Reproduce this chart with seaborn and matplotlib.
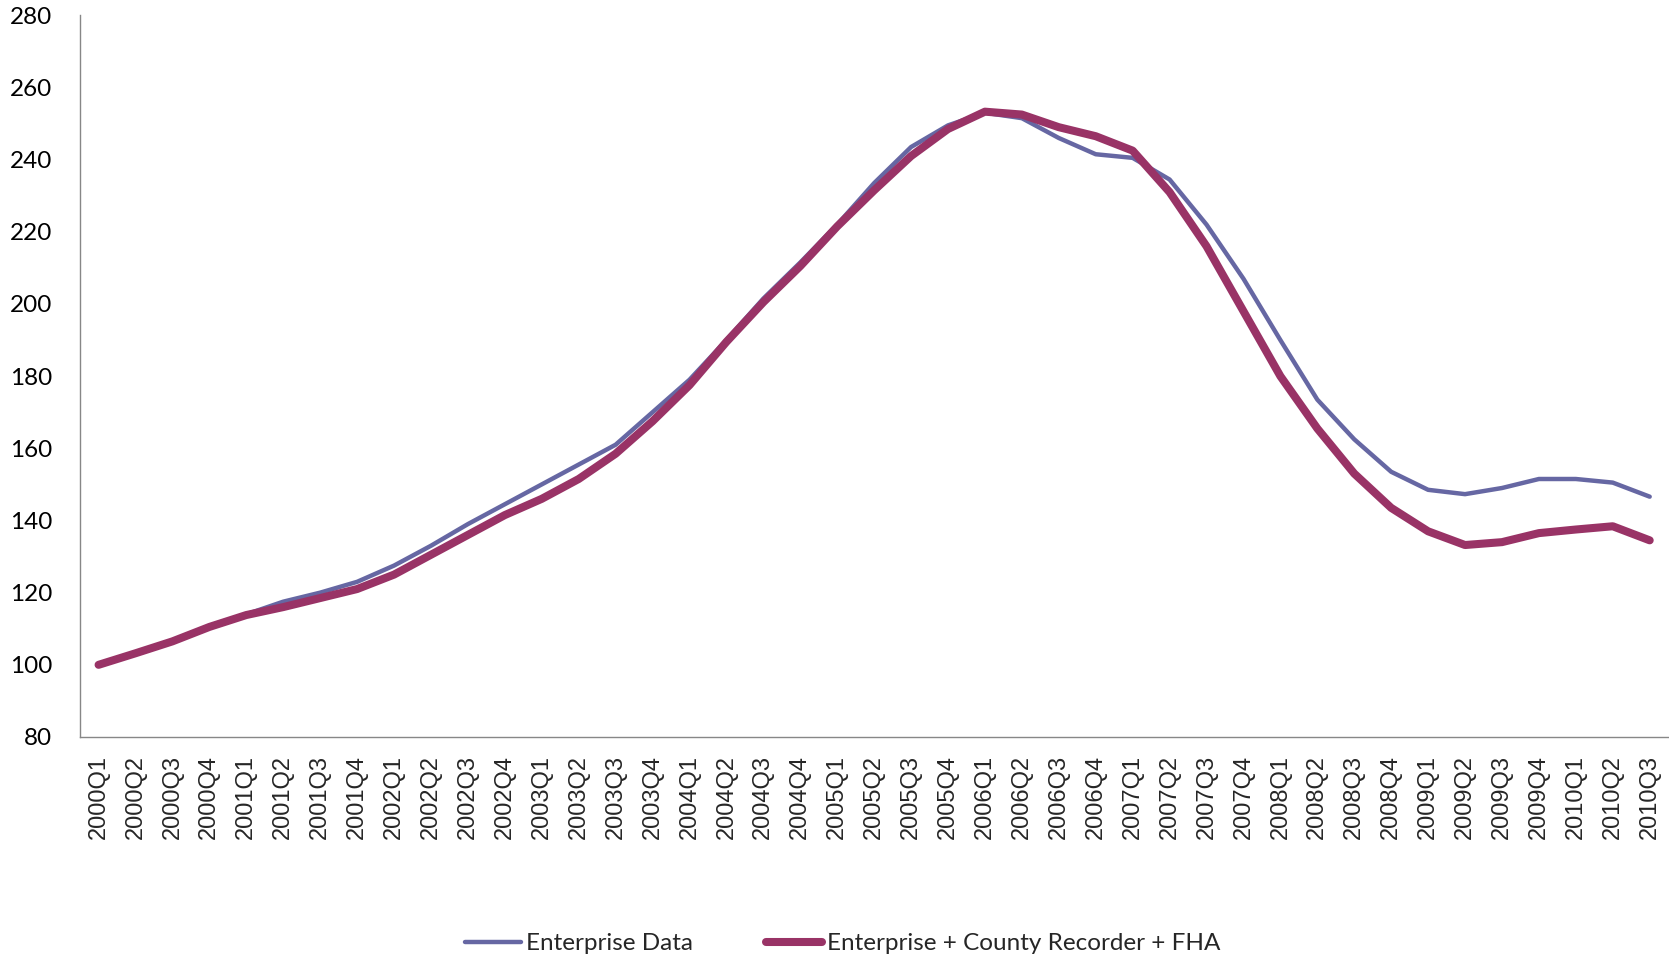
import numpy as np
import pandas as pd
import matplotlib.pyplot as plt
import seaborn as sns

# quarterly index values, 2000Q1 = 100
quarters = [f"{y}Q{q}" for y in range(2000, 2011) for q in range(1, 5)][:43]

enterprise = [100, 103.2, 106.5, 110.8, 114, 117.5, 120, 123, 127.5, 133,
              139, 144.5, 150, 155.5, 161, 170, 179, 190, 201.5, 211.5,
              222, 233.5, 243.5, 249.5, 253, 251.5, 246, 241.5, 240.5, 234.5,
              222, 207, 190, 173.5, 162.5, 153.5, 148.5, 147.3, 149, 151.5,
              151.5, 150.5, 146.6]

combined = [100, 103.2, 106.5, 110.5, 113.8, 116, 118.5, 121, 125, 130.5,
            136, 141.5, 146, 151.5, 158.5, 167.5, 177.5, 189.5, 200.5, 210.5,
            221.5, 231.5, 241, 248.5, 253.3, 252.5, 249, 246.5, 242.5, 231,
            216, 198, 180, 165.5, 153, 143.5, 137, 133.2, 134, 136.5,
            137.5, 138.4, 134.5]

df = pd.DataFrame({'idx': np.arange(len(quarters)),
                   'Enterprise Data': enterprise,
                   'Enterprise + County Recorder + FHA': combined})

sns.set_style('white')
plt.rcParams['font.family'] = ['Lato', 'DejaVu Sans']

fig = plt.figure(figsize=(16.69, 9.58), dpi=100)
ax = fig.add_axes([0.048, 0.2307, 0.9515, 0.7533])

sns.lineplot(data=df, x='idx', y='Enterprise Data', color='#6667A3',
             linewidth=3.2, label='Enterprise Data', ax=ax,
             solid_capstyle='round')
sns.lineplot(data=df, x='idx', y='Enterprise + County Recorder + FHA',
             color='#993366', linewidth=5.8,
             label='Enterprise + County Recorder + FHA', ax=ax,
             solid_capstyle='round')

ax.set_xlim(-0.5, len(quarters) - 0.5)
ax.set_ylim(80, 280)
ax.set_yticks(range(80, 281, 20))
ax.set_xticks(np.arange(len(quarters)))
ax.set_xticklabels(quarters, rotation=90, fontsize=17,
                   family=['Liberation Sans', 'DejaVu Sans'])
ax.set_xticks(np.arange(len(quarters) + 1) - 0.5, minor=True)
ax.tick_params(axis='x', which='major', length=0, pad=13)
ax.tick_params(axis='x', which='minor', length=6, width=1, color='#878787',
               direction='out')
ax.tick_params(axis='y', length=6, width=1, color='#878787', direction='out',
               labelsize=17.5, pad=14, labelcolor='black')
ax.set_xlabel('')
ax.set_ylabel('')

for s in ['top', 'right']:
    ax.spines[s].set_visible(False)
for s in ['left', 'bottom']:
    ax.spines[s].set_color('#878787')
    ax.spines[s].set_linewidth(1)

ax.legend(loc='lower center', bbox_to_anchor=(0.505, -0.019),
          bbox_transform=fig.transFigure, ncol=2, frameon=False,
          fontsize=17.5, handlelength=2.3, columnspacing=3, handletextpad=0.2)

fig.savefig('out.png', dpi=100)
